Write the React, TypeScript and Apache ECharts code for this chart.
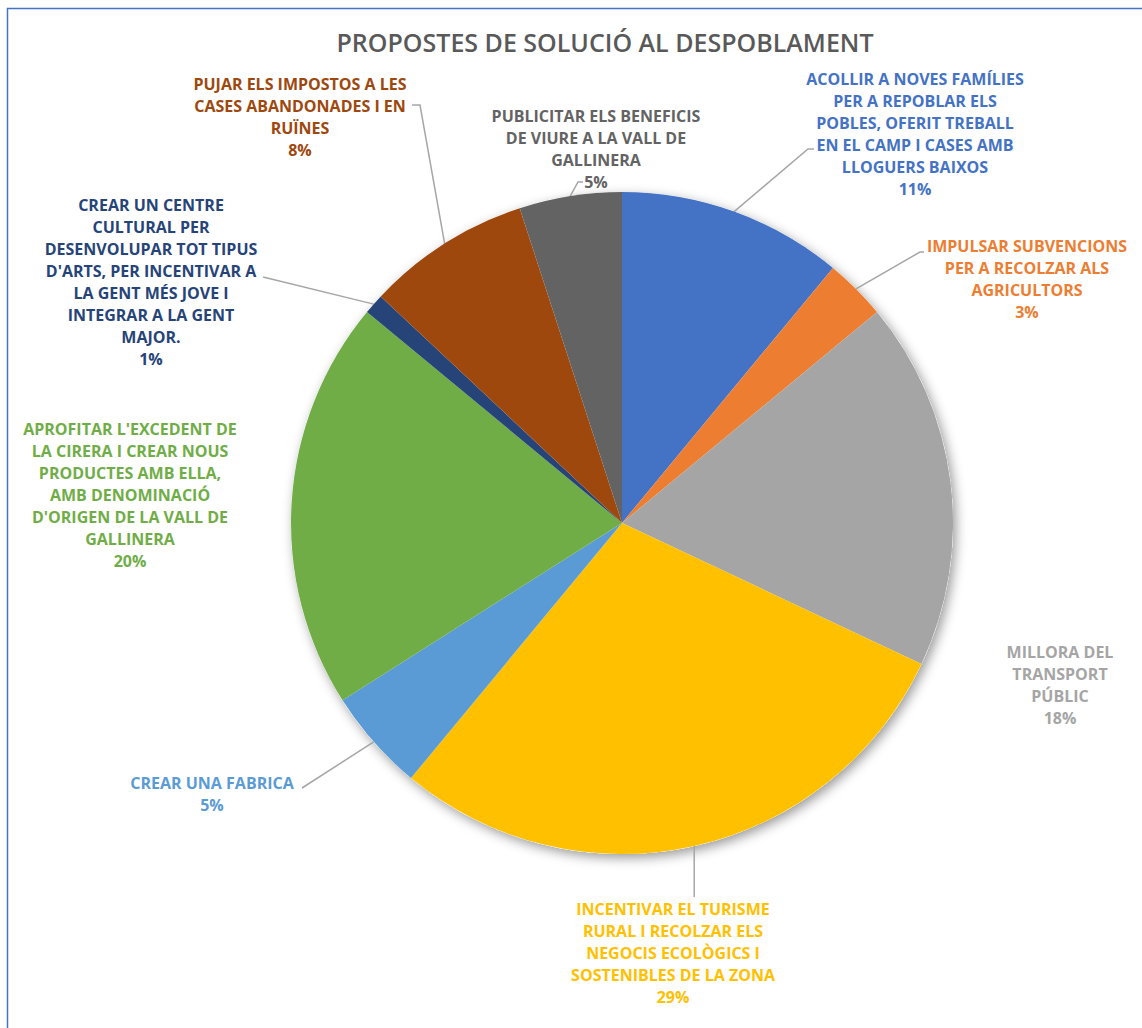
import React, { useEffect, useRef } from "react";
import * as echarts from "echarts";

const title = "PROPOSTES DE SOLUCIÓ AL DESPOBLAMENT";

const categories = [
  "ACOLLIR A NOVES FAMÍLIES\nPER A REPOBLAR ELS\nPOBLES, OFERIT TREBALL\nEN EL CAMP I CASES AMB\nLLOGUERS BAIXOS",
  "IMPULSAR SUBVENCIONS\nPER A RECOLZAR ALS\nAGRICULTORS",
  "MILLORA DEL\nTRANSPORT\nPÚBLIC",
  "INCENTIVAR EL TURISME\nRURAL I RECOLZAR ELS\nNEGOCIS ECOLÒGICS I\nSOSTENIBLES DE LA ZONA",
  "CREAR UNA FABRICA",
  "APROFITAR L'EXCEDENT DE\nLA CIRERA I CREAR NOUS\nPRODUCTES AMB ELLA,\nAMB DENOMINACIÓ\nD'ORIGEN DE LA VALL DE\nGALLINERA",
  "CREAR UN CENTRE\nCULTURAL PER\nDESENVOLUPAR TOT TIPUS\nD'ARTS, PER INCENTIVAR A\nLA GENT MÉS JOVE I\nINTEGRAR A LA GENT\nMAJOR.",
  "PUJAR ELS IMPOSTOS A LES\nCASES ABANDONADES I EN\nRUÏNES",
  "PUBLICITAR ELS BENEFICIS\nDE VIURE A LA VALL DE\nGALLINERA",
];

const values = [11, 3, 18, 29, 5, 20, 1, 8, 5];

const colors = [
  "#4472C4",
  "#ED7D31",
  "#A5A5A5",
  "#FFC000",
  "#5B9BD5",
  "#70AD47",
  "#264478",
  "#9E480E",
  "#636363",
];

// label block centres (layout only)
const labelPos: [number, number][] = [
  [915, 133.5],
  [1027, 278.5],
  [1060, 684.5],
  [673, 953],
  [212, 794],
  [130, 494.5],
  [151, 281.5],
  [300, 116.5],
  [596, 148.5],
];

// leader line bends after the slice anchor (layout only); null = no leader
const leaderBends: ([number, number][] | null)[] = [
  [[808, 149], [814, 149]],
  [[920, 252], [924, 252]],
  null,
  [[-1, 897]],
  [[302, 788]],
  null,
  [[263, 277]],
  [[420, 105], [412, 105]],
  [[578, 182], [583, 182]],
];

const FONT = "'Open Sans', 'Noto Sans', sans-serif";

export default function App() {
  const ref = useRef<HTMLDivElement>(null);

  useEffect(() => {
    if (!ref.current) return;
    const chart = echarts.init(ref.current, undefined, { renderer: "svg" });

    const data = categories.map((name, i) => ({
      name,
      value: values[i],
      itemStyle: { color: colors[i] },
      label: { color: colors[i] },
      labelLine: { show: leaderBends[i] !== null },
    }));

    chart.setOption({
      animation: false,
      backgroundColor: "#ffffff",
      title: {
        text: title,
        left: 600,
        top: 24,
        textAlign: "center",
        textStyle: {
          fontFamily: FONT,
          fontSize: 25,
          fontWeight: 600,
          color: "#595959",
        },
      },
      graphic: [
        {
          type: "rect",
          shape: { x: 7.5, y: 8.5, width: 1300, height: 1200 },
          style: { fill: "none", stroke: "#4472C4", lineWidth: 1.5 },
          silent: true,
        },
      ],
      series: [
        {
          type: "pie",
          center: [622, 523],
          radius: 331,
          silent: true,
          z: 1,
          label: { show: false },
          labelLine: { show: false },
          itemStyle: {
            color: "#ffffff",
            shadowBlur: 12,
            shadowColor: "rgba(0,0,0,0.4)",
            shadowOffsetX: 3,
            shadowOffsetY: 4,
          },
          data: [{ value: 1, name: "" }],
        },
        {
          type: "pie",
          z: 2,
          center: [622, 523],
          radius: 331,
          startAngle: 90,
          clockwise: true,
          avoidLabelOverlap: false,
          percentPrecision: 0,
          itemStyle: { borderWidth: 0 },
          label: {
            show: true,
            position: "outside",
            formatter: "{b}\n{d}%",
            fontFamily: FONT,
            fontSize: 16,
            fontWeight: "bold",
            lineHeight: 22,
            align: "center",
          },
          labelLine: {
            show: true,
            length: 20,
            length2: 10,
            lineStyle: { color: "#A6A6A6", width: 1.5 },
          },
          labelLayout: (params: any) => {
            const i = params.dataIndex;
            const [x, y] = labelPos[i];
            const res: any = { x, y, align: "center", verticalAlign: "middle" };
            const bends = leaderBends[i];
            const pts = params.labelLinePoints;
            if (bends && pts && pts.length) {
              const p0 = pts[0];
              res.labelLinePoints = [
                [p0[0], p0[1]],
                ...bends.map((b) => [b[0] < 0 ? p0[0] : b[0], b[1]]),
              ];
            }
            return res;
          },
          data,
        },
      ],
    });

    return () => chart.dispose();
  }, []);

  return (
    <div
      ref={ref}
      style={{ position: "absolute", left: 0, top: 0, width: 1142, height: 1028 }}
    />
  );
}
